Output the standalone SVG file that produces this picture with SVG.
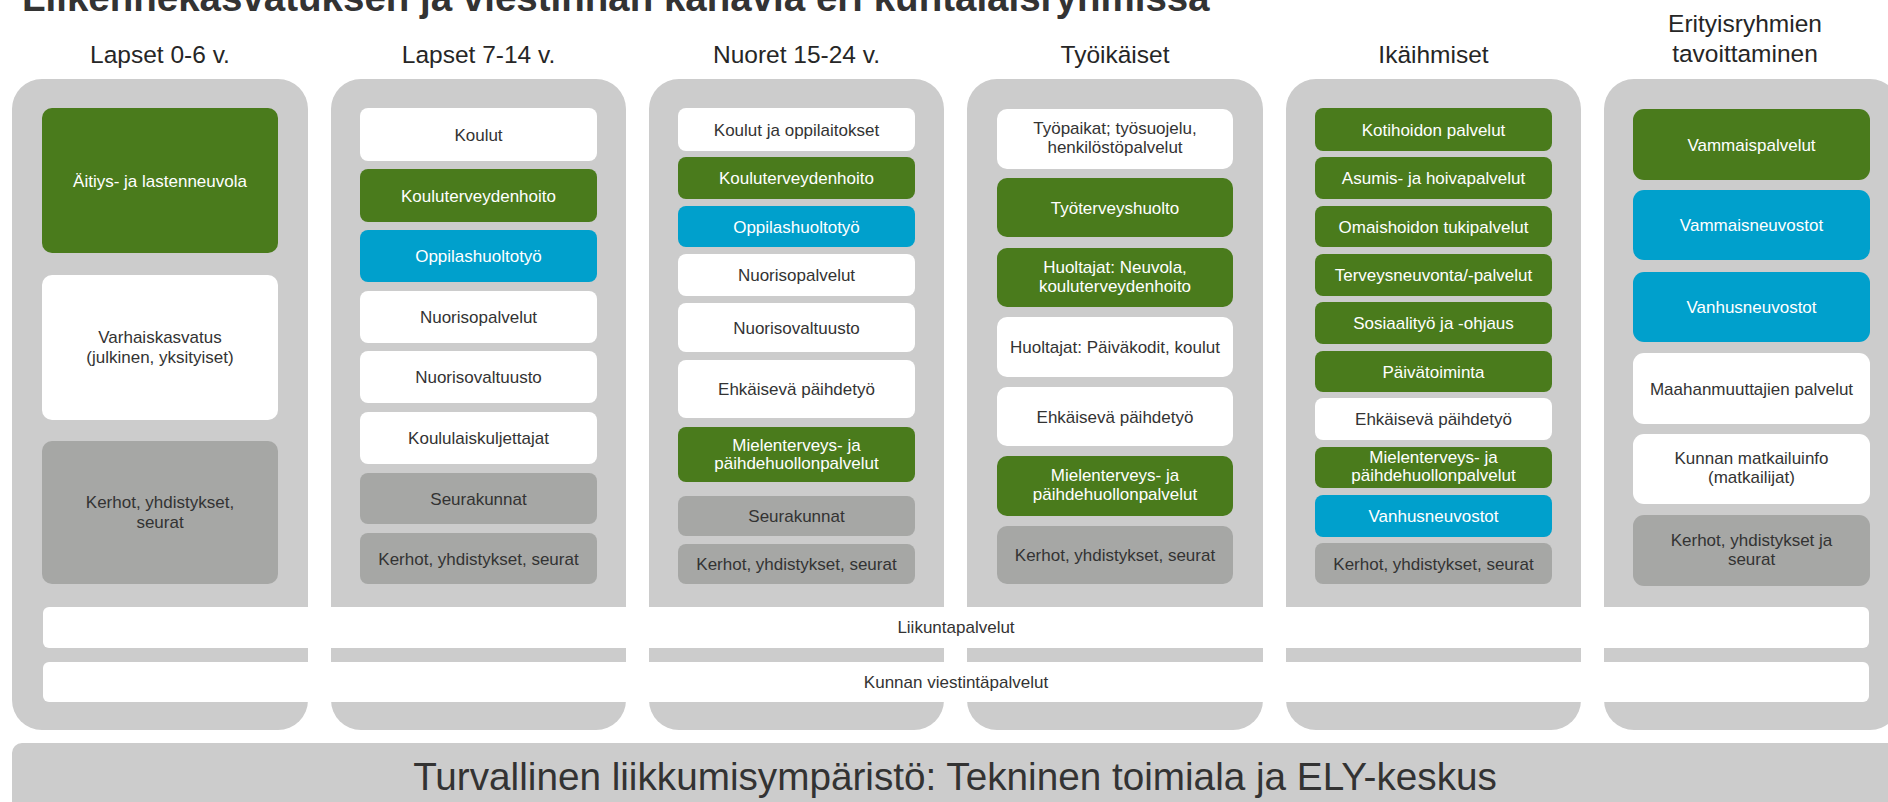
<svg xmlns="http://www.w3.org/2000/svg" width="1888" height="802" viewBox="0 0 1888 802">
<style>
.col{fill:#cccccc}
.g{fill:#4a7b1c}
.b{fill:#00a0cc}
.w{fill:#ffffff}
.d{fill:#a6a7a5}
.t{font-family:'Liberation Sans',Arial,sans-serif;font-size:17px;text-anchor:middle}
.tw{fill:#ffffff}
.tk{fill:#333333}
.hd{font-family:'Liberation Sans',Arial,sans-serif;font-size:24.5px;text-anchor:middle;fill:#262626}
</style>
<rect width="1888" height="802" fill="#ffffff"/>
<text id="title" x="22" y="11" font-family="'Liberation Sans',Arial,sans-serif" font-size="38.5" font-weight="bold" fill="#333333">Liikennekasvatuksen ja viestinnän kanavia eri kuntalaisryhmissä</text>

<g id="headers">
<text class="hd" x="160" y="63">Lapset 0-6 v.</text>
<text class="hd" x="478.5" y="63">Lapset 7-14 v.</text>
<text class="hd" x="796.5" y="63">Nuoret 15-24 v.</text>
<text class="hd" x="1115" y="63">Työikäiset</text>
<text class="hd" x="1433.5" y="63">Ikäihmiset</text>
<text class="hd" x="1745" y="32">Erityisryhmien</text>
<text class="hd" x="1745" y="62">tavoittaminen</text>
</g>

<g id="columns">
<rect class="col" x="12" y="79" width="296" height="651" rx="30"/>
<rect class="col" x="331" y="79" width="295" height="651" rx="30"/>
<rect class="col" x="649" y="79" width="295" height="651" rx="30"/>
<rect class="col" x="967" y="79" width="296" height="651" rx="30"/>
<rect class="col" x="1286" y="79" width="295" height="651" rx="30"/>
<rect class="col" x="1604" y="79" width="296" height="651" rx="30"/>
</g>

<g id="col1">
<g id="c1b1"><rect class="g" x="42" y="108" width="236" height="145" rx="10"/><text class="t tw" x="160" y="186.5">Äitiys- ja lastenneuvola</text></g>
<g id="c1b2"><rect class="w" x="42" y="275" width="236" height="145" rx="10"/><text class="t tk" x="160" y="342.5">Varhaiskasvatus</text><text class="t tk" x="160" y="362.5">(julkinen, yksityiset)</text></g>
<g id="c1b3"><rect class="d" x="42" y="441" width="236" height="143" rx="10"/><text class="t tk" x="160" y="507.5">Kerhot, yhdistykset,</text><text class="t tk" x="160" y="527.5">seurat</text></g>
</g>

<g id="col2">
<g id="c2b1"><rect class="w" x="360" y="108" width="237" height="53" rx="8"/><text class="t tk" x="478.5" y="140.5">Koulut</text></g>
<g id="c2b2"><rect class="g" x="360" y="169" width="237" height="53" rx="8"/><text class="t tw" x="478.5" y="201.5">Kouluterveydenhoito</text></g>
<g id="c2b3"><rect class="b" x="360" y="230" width="237" height="52" rx="8"/><text class="t tw" x="478.5" y="262">Oppilashuoltotyö</text></g>
<g id="c2b4"><rect class="w" x="360" y="291" width="237" height="52" rx="8"/><text class="t tk" x="478.5" y="323">Nuorisopalvelut</text></g>
<g id="c2b5"><rect class="w" x="360" y="351" width="237" height="52" rx="8"/><text class="t tk" x="478.5" y="383">Nuorisovaltuusto</text></g>
<g id="c2b6"><rect class="w" x="360" y="412" width="237" height="52" rx="8"/><text class="t tk" x="478.5" y="444">Koululaiskuljettajat</text></g>
<g id="c2b7"><rect class="d" x="360" y="473" width="237" height="51" rx="8"/><text class="t tk" x="478.5" y="504.5">Seurakunnat</text></g>
<g id="c2b8"><rect class="d" x="360" y="533" width="237" height="51" rx="8"/><text class="t tk" x="478.5" y="564.5">Kerhot, yhdistykset, seurat</text></g>
</g>

<g id="col3">
<g id="c3b1"><rect class="w" x="678" y="108" width="237" height="43" rx="8"/><text class="t tk" x="796.5" y="135.5">Koulut ja oppilaitokset</text></g>
<g id="c3b2"><rect class="g" x="678" y="157" width="237" height="42" rx="8"/><text class="t tw" x="796.5" y="184">Kouluterveydenhoito</text></g>
<g id="c3b3"><rect class="b" x="678" y="206" width="237" height="41" rx="8"/><text class="t tw" x="796.5" y="232.5">Oppilashuoltotyö</text></g>
<g id="c3b4"><rect class="w" x="678" y="254" width="237" height="42" rx="8"/><text class="t tk" x="796.5" y="281">Nuorisopalvelut</text></g>
<g id="c3b5"><rect class="w" x="678" y="303" width="237" height="49" rx="8"/><text class="t tk" x="796.5" y="333.5">Nuorisovaltuusto</text></g>
<g id="c3b6"><rect class="w" x="678" y="360" width="237" height="58" rx="8"/><text class="t tk" x="796.5" y="395">Ehkäisevä päihdetyö</text></g>
<g id="c3b7"><rect class="g" x="678" y="427" width="237" height="55" rx="8"/><text class="t tw" x="796.5" y="451">Mielenterveys- ja</text><text class="t tw" x="796.5" y="469">päihdehuollonpalvelut</text></g>
<g id="c3b8"><rect class="d" x="678" y="496" width="237" height="40" rx="8"/><text class="t tk" x="796.5" y="522">Seurakunnat</text></g>
<g id="c3b9"><rect class="d" x="678" y="544" width="237" height="40" rx="8"/><text class="t tk" x="796.5" y="570">Kerhot, yhdistykset, seurat</text></g>
</g>

<g id="col4">
<g id="c4b1"><rect class="w" x="997" y="109" width="236" height="60" rx="10"/><text class="t tk" x="1115" y="134">Työpaikat; työsuojelu,</text><text class="t tk" x="1115" y="153">henkilöstöpalvelut</text></g>
<g id="c4b2"><rect class="g" x="997" y="178" width="236" height="59" rx="10"/><text class="t tw" x="1115" y="213.5">Työterveyshuolto</text></g>
<g id="c4b3"><rect class="g" x="997" y="248" width="236" height="59" rx="10"/><text class="t tw" x="1115" y="272.5">Huoltajat: Neuvola,</text><text class="t tw" x="1115" y="291.5">kouluterveydenhoito</text></g>
<g id="c4b4"><rect class="w" x="997" y="317" width="236" height="60" rx="10"/><text class="t tk" x="1115" y="353">Huoltajat: Päiväkodit, koulut</text></g>
<g id="c4b5"><rect class="w" x="997" y="387" width="236" height="59" rx="10"/><text class="t tk" x="1115" y="422.5">Ehkäisevä päihdetyö</text></g>
<g id="c4b6"><rect class="g" x="997" y="456" width="236" height="60" rx="10"/><text class="t tw" x="1115" y="481">Mielenterveys- ja</text><text class="t tw" x="1115" y="500">päihdehuollonpalvelut</text></g>
<g id="c4b7"><rect class="d" x="997" y="526" width="236" height="58" rx="10"/><text class="t tk" x="1115" y="561">Kerhot, yhdistykset, seurat</text></g>
</g>

<g id="col5">
<g id="c5b1"><rect class="g" x="1315" y="108" width="237" height="43" rx="8"/><text class="t tw" x="1433.5" y="135.5">Kotihoidon palvelut</text></g>
<g id="c5b2"><rect class="g" x="1315" y="157" width="237" height="42" rx="8"/><text class="t tw" x="1433.5" y="184">Asumis- ja hoivapalvelut</text></g>
<g id="c5b3"><rect class="g" x="1315" y="206" width="237" height="41" rx="8"/><text class="t tw" x="1433.5" y="232.5">Omaishoidon tukipalvelut</text></g>
<g id="c5b4"><rect class="g" x="1315" y="254" width="237" height="42" rx="8"/><text class="t tw" x="1433.5" y="281">Terveysneuvonta/-palvelut</text></g>
<g id="c5b5"><rect class="g" x="1315" y="302" width="237" height="42" rx="8"/><text class="t tw" x="1433.5" y="329">Sosiaalityö ja -ohjaus</text></g>
<g id="c5b6"><rect class="g" x="1315" y="351" width="237" height="41" rx="8"/><text class="t tw" x="1433.5" y="377.5">Päivätoiminta</text></g>
<g id="c5b7"><rect class="w" x="1315" y="398" width="237" height="42" rx="8"/><text class="t tk" x="1433.5" y="425">Ehkäisevä päihdetyö</text></g>
<g id="c5b8"><rect class="g" x="1315" y="447" width="237" height="41" rx="8"/><text class="t tw" x="1433.5" y="463">Mielenterveys- ja</text><text class="t tw" x="1433.5" y="481">päihdehuollonpalvelut</text></g>
<g id="c5b9"><rect class="b" x="1315" y="495" width="237" height="42" rx="8"/><text class="t tw" x="1433.5" y="522">Vanhusneuvostot</text></g>
<g id="c5b10"><rect class="d" x="1315" y="543" width="237" height="41" rx="8"/><text class="t tk" x="1433.5" y="569.5">Kerhot, yhdistykset, seurat</text></g>
</g>

<g id="col6">
<g id="c6b1"><rect class="g" x="1633" y="109" width="237" height="71" rx="11"/><text class="t tw" x="1751.5" y="150.5">Vammaispalvelut</text></g>
<g id="c6b2"><rect class="b" x="1633" y="190" width="237" height="70" rx="11"/><text class="t tw" x="1751.5" y="231">Vammaisneuvostot</text></g>
<g id="c6b3"><rect class="b" x="1633" y="272" width="237" height="70" rx="11"/><text class="t tw" x="1751.5" y="313">Vanhusneuvostot</text></g>
<g id="c6b4"><rect class="w" x="1633" y="353" width="237" height="71" rx="11"/><text class="t tk" x="1751.5" y="394.5">Maahanmuuttajien palvelut</text></g>
<g id="c6b5"><rect class="w" x="1633" y="434" width="237" height="70" rx="11"/><text class="t tk" x="1751.5" y="464">Kunnan matkailuinfo</text><text class="t tk" x="1751.5" y="483">(matkailijat)</text></g>
<g id="c6b6"><rect class="d" x="1633" y="515" width="237" height="71" rx="11"/><text class="t tk" x="1751.5" y="545.5">Kerhot, yhdistykset ja</text><text class="t tk" x="1751.5" y="564.5">seurat</text></g>
</g>

<g id="bar-liikunta"><rect class="w" x="43" y="607" width="1826" height="41" rx="6"/><text class="t tk" x="956" y="633">Liikuntapalvelut</text></g>
<g id="bar-viestinta"><rect class="w" x="43" y="662" width="1826" height="40" rx="6"/><text class="t tk" x="956" y="688">Kunnan viestintäpalvelut</text></g>

<g id="base"><rect class="col" x="12" y="743" width="1890" height="80" rx="10"/><text x="955" y="790" font-family="'Liberation Sans',Arial,sans-serif" font-size="38.7" text-anchor="middle" fill="#333333">Turvallinen liikkumisympäristö: Tekninen toimiala ja ELY-keskus</text></g>
</svg>
